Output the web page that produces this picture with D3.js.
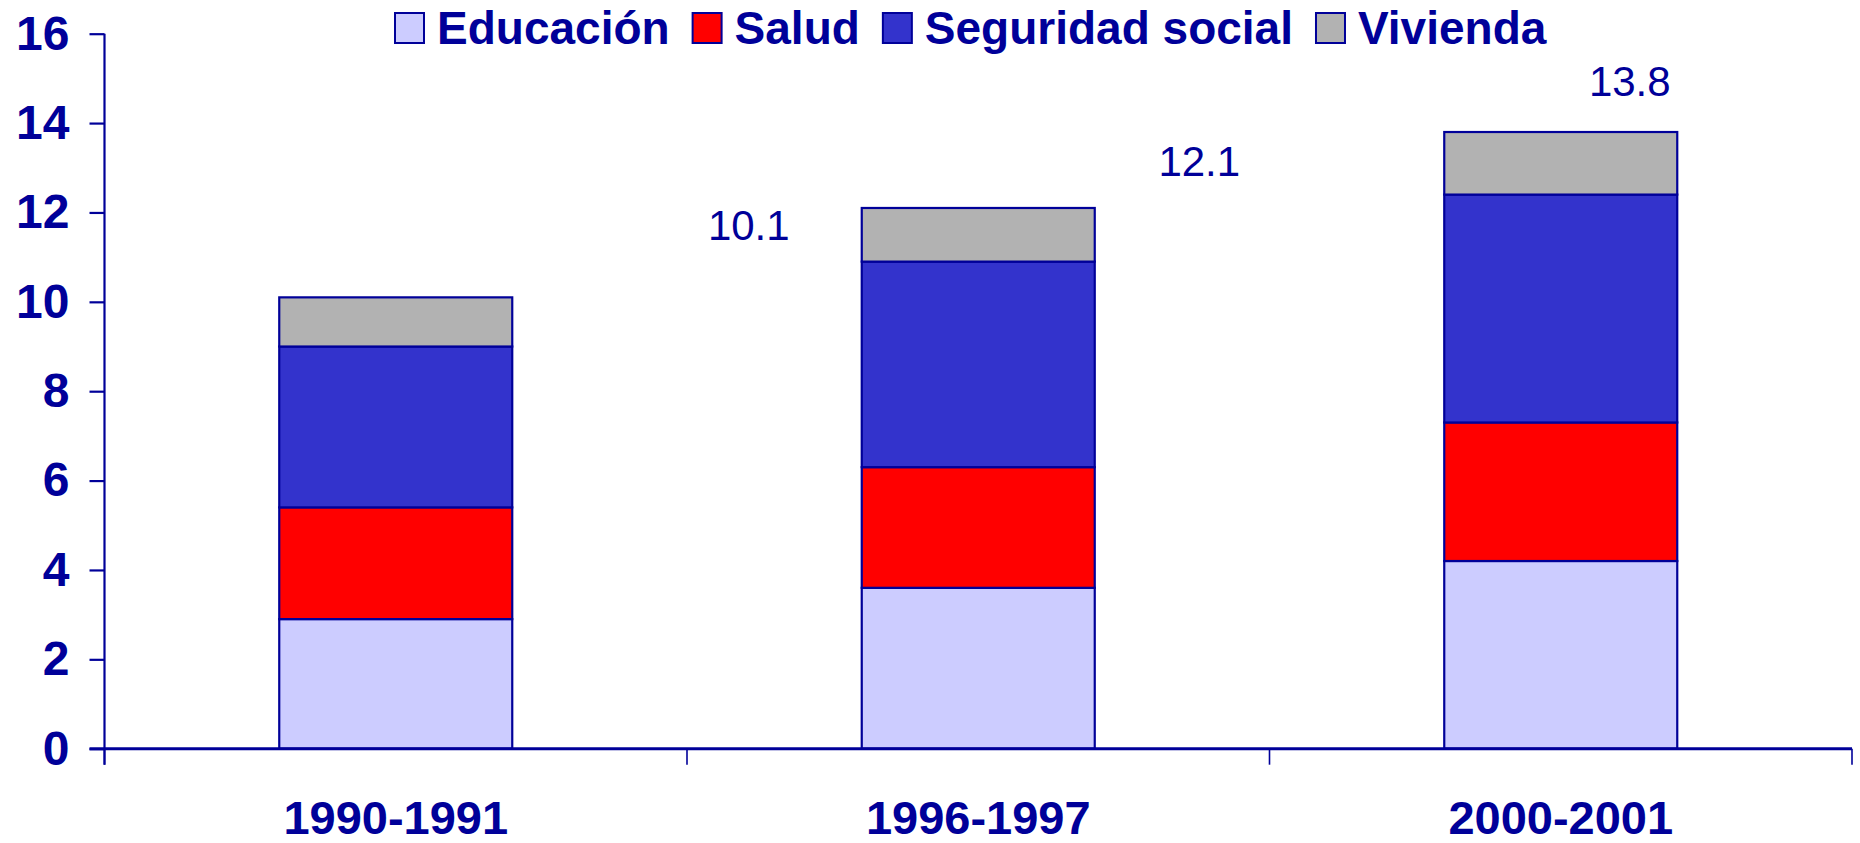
<!DOCTYPE html>
<html>
<head>
<meta charset="utf-8">
<script src="https://cdn.jsdelivr.net/npm/d3@7"></script>
<style>
  html, body { margin: 0; padding: 0; background: #ffffff; }
  svg { display: block; }
  text { font-family: "Liberation Sans", Arial, sans-serif; }
</style>
</head>
<body>
<svg id="chart" width="1860" height="843"></svg>
<script>
// ---- Data ----
const categories = ["1990-1991", "1996-1997", "2000-2001"];
const seriesNames = ["Educación", "Salud", "Seguridad social", "Vivienda"];
const educacion = [2.9, 3.6, 4.2];
const salud = [2.5, 2.7, 3.1];
const seguridadSocial = [3.6, 4.6, 5.1];
const vivienda = [1.1, 1.2, 1.4];
const totals = [10.1, 12.1, 13.8];
const totalLabels = ["10.1", "12.1", "13.8"];
const yTicks = [0, 2, 4, 6, 8, 10, 12, 14, 16];

// ---- Styles / layout ----
const colors = ["#CCCCFF", "#FF0000", "#3333CC", "#B2B2B2"];
const ink = "#000099";
const plot = { left: 104.5, right: 1852, top: 33.7, bottom: 748.7 };
// label placement offsets (px) relative to bar centre / bar top
const labelDx = [353, 221, 69];
const labelDy = [-57, -32, -36];

const rows = categories.map((c, i) => ({
  cat: c,
  "Educación": educacion[i],
  "Salud": salud[i],
  "Seguridad social": seguridadSocial[i],
  "Vivienda": vivienda[i]
}));

const svg = d3.select("#chart");

const x = d3.scaleBand().domain(categories).range([plot.left, plot.right]).padding(0);
const y = d3.scaleLinear().domain([0, 16]).range([plot.bottom, plot.top]);
const color = d3.scaleOrdinal().domain(seriesNames).range(colors);

const stacked = d3.stack().keys(seriesNames)(rows);

const barW = x.bandwidth() * 0.4;
const barX = c => x(c) + (x.bandwidth() - barW) / 2;

// bars
svg.append("g").selectAll("g")
  .data(stacked)
  .join("g")
  .attr("fill", d => color(d.key))
  .selectAll("rect")
  .data(d => d)
  .join("rect")
  .attr("x", d => barX(d.data.cat))
  .attr("width", barW)
  .attr("y", d => y(d[1]))
  .attr("height", d => y(d[0]) - y(d[1]))
  .attr("stroke", ink)
  .attr("stroke-width", 2.2);

// y axis
const yAxis = svg.append("g")
  .attr("transform", `translate(${plot.left},0)`)
  .call(d3.axisLeft(y).tickValues(yTicks).tickSize(15).tickPadding(20).tickSizeOuter(0).tickFormat(d3.format("d")));
yAxis.select(".domain").attr("stroke", ink).attr("stroke-width", 2.2)
  .attr("d", `M0,${plot.top}V${plot.bottom + 16}`);
yAxis.selectAll(".tick line").attr("stroke", ink).attr("stroke-width", 2.2);
yAxis.selectAll(".tick text")
  .attr("fill", ink).attr("font-size", 48).attr("font-weight", "bold")
  .attr("font-family", "'Liberation Sans', Arial, sans-serif");

// x axis baseline
svg.append("line")
  .attr("x1", plot.left - 15).attr("x2", plot.right)
  .attr("y1", y(0)).attr("y2", y(0))
  .attr("stroke", ink).attr("stroke-width", 3);

// category boundary ticks
const bounds = categories.map(c => x(c)).concat([x.range()[1]]);
svg.append("g").selectAll("line")
  .data(bounds)
  .join("line")
  .attr("x1", d => d).attr("x2", d => d)
  .attr("y1", y(0)).attr("y2", y(0) + 16)
  .attr("stroke", ink).attr("stroke-width", 1.6);

// category labels
const xAxis = svg.append("g")
  .attr("transform", `translate(0,${y(0)})`)
  .call(d3.axisBottom(x).tickSize(0).tickPadding(52));
xAxis.select(".domain").remove();
xAxis.selectAll(".tick text")
  .attr("fill", ink).attr("font-size", 47).attr("font-weight", "bold")
  .attr("font-family", "'Liberation Sans', Arial, sans-serif");

// total labels
svg.append("g").selectAll("text")
  .data(categories)
  .join("text")
  .attr("x", (c, i) => x(c) + x.bandwidth() / 2 + labelDx[i])
  .attr("y", (c, i) => y(totals[i]) + labelDy[i])
  .attr("text-anchor", "middle")
  .attr("fill", ink)
  .attr("font-size", 42)
  .text((c, i) => totalLabels[i]);

// legend
const legend = svg.append("g");
let lx = 395;
seriesNames.forEach((name, i) => {
  legend.append("rect")
    .attr("x", lx).attr("y", 13).attr("width", 29).attr("height", 30)
    .attr("fill", colors[i]).attr("stroke", ink).attr("stroke-width", 2);
  const t = legend.append("text")
    .attr("x", lx + 42).attr("y", 44)
    .attr("fill", ink).attr("font-size", 46).attr("font-weight", "bold")
    .text(name);
  const w = t.node().getComputedTextLength();
  lx = lx + 42 + w + 23;
});
</script>
</body>
</html>
